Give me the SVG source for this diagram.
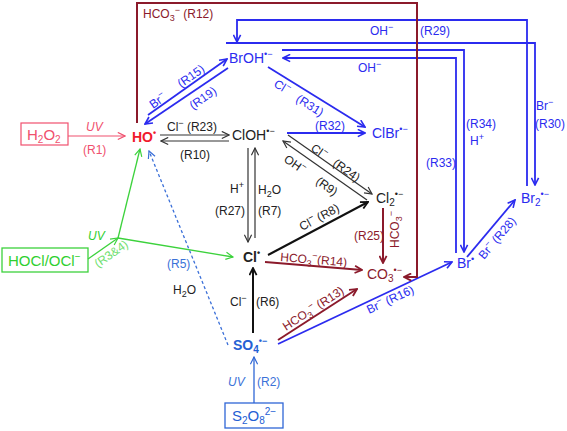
<svg xmlns="http://www.w3.org/2000/svg" width="567" height="431" viewBox="0 0 567 431">
<defs>
<style>
text{font-family:"Liberation Sans",Arial,Helvetica,sans-serif}
.sp{font-size:14px}
.lb{font-size:12px}
.it{font-style:italic}
.bd{font-weight:bold}
.k{fill:#222}
.mr{fill:#8b1a2b}
.bl{fill:#2b2bef}
.sb{fill:#2460d4}
.sl{fill:#3b72d8}
.gr{fill:#2fcf2f}
.lg{fill:#6fe06f}
.pk{fill:#f0506e}
.rd{fill:#f01a2c}
.ln{fill:none}
.c-bl{stroke:#2b2bef;stroke-width:1.8}
.c-mr{stroke:#8b1a2b;stroke-width:2}
.c-k{stroke:#333;stroke-width:1.2}
.c-kk{stroke:#111;stroke-width:2}
.c-gr{stroke:#3cd23c;stroke-width:1.3}
.c-pk{stroke:#f0506e;stroke-width:1.2}
.c-sb{stroke:#2f66d6;stroke-width:1.3}
.c-ds{stroke:#3a6fd8;stroke-width:1.3;stroke-dasharray:3 2.5}
</style>
<marker id="m-bl" viewBox="0 0 10 10" refX="9" refY="5" markerWidth="9" markerHeight="9" markerUnits="userSpaceOnUse" orient="auto"><path d="M1,1 L9,5 L1,9" fill="none" stroke="#2b2bef" stroke-width="1.8"/></marker>
<marker id="m-mr" viewBox="0 0 10 10" refX="9" refY="5" markerWidth="9" markerHeight="9" markerUnits="userSpaceOnUse" orient="auto"><path d="M1,1 L9,5 L1,9" fill="none" stroke="#8b1a2b" stroke-width="2"/></marker>
<marker id="m-k" viewBox="0 0 10 10" refX="9" refY="5" markerWidth="9" markerHeight="9" markerUnits="userSpaceOnUse" orient="auto"><path d="M1,1 L9,5 L1,9" fill="none" stroke="#333" stroke-width="1.3"/></marker>
<marker id="m-kk" viewBox="0 0 10 10" refX="9" refY="5" markerWidth="9" markerHeight="9" markerUnits="userSpaceOnUse" orient="auto"><path d="M1,1 L9,5 L1,9" fill="none" stroke="#111" stroke-width="2"/></marker>
<marker id="m-gr" viewBox="0 0 10 10" refX="9" refY="5" markerWidth="9" markerHeight="9" markerUnits="userSpaceOnUse" orient="auto"><path d="M1,1 L9,5 L1,9" fill="none" stroke="#3cd23c" stroke-width="1.3"/></marker>
<marker id="m-pk" viewBox="0 0 10 10" refX="9" refY="5" markerWidth="9" markerHeight="9" markerUnits="userSpaceOnUse" orient="auto"><path d="M1,1 L9,5 L1,9" fill="none" stroke="#f0506e" stroke-width="1.3"/></marker>
<marker id="m-sb" viewBox="0 0 10 10" refX="9" refY="5" markerWidth="9" markerHeight="9" markerUnits="userSpaceOnUse" orient="auto"><path d="M1,1 L9,5 L1,9" fill="none" stroke="#2f66d6" stroke-width="1.3"/></marker>
<marker id="m-ds" viewBox="0 0 10 10" refX="9" refY="5" markerWidth="9" markerHeight="9" markerUnits="userSpaceOnUse" orient="auto"><path d="M1,1 L9,5 L1,9" fill="none" stroke="#3a6fd8" stroke-width="1.3"/></marker>
</defs>
<rect width="567" height="431" fill="#fff"/>

<g id="connectors">
  <!-- blue bromine system -->
  <path class="ln c-bl" d="M148,115 L227,59" marker-end="url(#m-bl)"/>
  <path class="ln c-bl" d="M228,68 L145,124" marker-end="url(#m-bl)"/>
  <path class="ln c-bl" d="M268,67 L365,127" marker-end="url(#m-bl)"/>
  <path class="ln c-bl" d="M287,133 L365,133" marker-end="url(#m-bl)"/>
  <path class="ln c-bl" d="M527,186 V20 H237 V42" marker-end="url(#m-bl)"/>
  <path class="ln c-bl" d="M226,43 H535 V185" marker-end="url(#m-bl)"/>
  <path class="ln c-bl" d="M282,50 H464 V252" marker-end="url(#m-bl)"/>
  <path class="ln c-bl" d="M456,253 V58 H283" marker-end="url(#m-bl)"/>
  <path class="ln c-bl" d="M467,257 L515,200" marker-end="url(#m-bl)"/>
  <path class="ln c-bl" d="M278,344 L452,262" marker-end="url(#m-bl)"/>
  <!-- maroon carbonate -->
  <path class="ln c-mr" d="M137,123 V3 H417 V277 H404" marker-end="url(#m-mr)"/>
  <path class="ln c-mr" d="M278,340 L357,289" marker-end="url(#m-mr)"/>
  <path class="ln c-mr" d="M265,262 L362,270" marker-end="url(#m-mr)"/>
  <path class="ln c-mr" d="M383,208 V263" marker-end="url(#m-mr)"/>
  <!-- black chlorine -->
  <path class="ln c-k" d="M160,135 H229" marker-end="url(#m-k)"/>
  <path class="ln c-k" d="M229,141 H161" marker-end="url(#m-k)"/>
  <path class="ln c-k" d="M248,148 V242" marker-end="url(#m-k)"/>
  <path class="ln c-k" d="M255,238 V148" marker-end="url(#m-k)"/>
  <path class="ln c-k" d="M288,135 L372,194" marker-end="url(#m-k)"/>
  <path class="ln c-k" d="M367,200 L283,141" marker-end="url(#m-k)"/>
  <path class="ln c-kk" d="M268,255 L368,202" marker-end="url(#m-kk)"/>
  <path class="ln c-kk" d="M253,333 V268" marker-end="url(#m-kk)"/>
  <!-- green -->
  <path class="ln c-gr" d="M88,259 L118,238" marker-end="url(#m-gr)"/>
  <path class="ln c-gr" d="M118,238 L140,149" marker-end="url(#m-gr)"/>
  <path class="ln c-gr" d="M118,238 L233,257" marker-end="url(#m-gr)"/>
  <!-- pink -->
  <path class="ln c-pk" d="M68,136 H125" marker-end="url(#m-pk)"/>
  <!-- sulfate -->
  <path class="ln c-sb" d="M254,403 V357" marker-end="url(#m-sb)"/>
  <path class="ln c-ds" d="M228,345 L149,151" marker-end="url(#m-ds)"/>

  <!-- labels -->
  <text class="lb mr" x="143" y="18">HCO<tspan dy="3" font-size="9">3</tspan><tspan dy="-8" font-size="9">−</tspan><tspan dy="5"> (R12)</tspan></text>
  <text class="lb bl" x="370" y="35">OH<tspan dy="-5" font-size="9">−</tspan></text>
  <text class="lb bl" x="420" y="35">(R29)</text>
  <text class="lb bl" x="358" y="72">OH<tspan dy="-5" font-size="9">−</tspan></text>
  <text class="lb bl" x="536" y="110">Br<tspan dy="-5" font-size="9">−</tspan></text>
  <text class="lb bl" x="535" y="128">(R30)</text>
  <text class="lb bl" x="466" y="128">(R34)</text>
  <text class="lb bl" x="470" y="145">H<tspan dy="-5" font-size="9">+</tspan></text>
  <text class="lb bl" x="426" y="167">(R33)</text>
  <text class="lb bl" transform="translate(153,109) rotate(-35)">Br<tspan dy="-5" font-size="9">−</tspan></text>
  <text class="lb bl" transform="translate(181,88) rotate(-35)">(R15)</text>
  <text class="lb bl" transform="translate(193,110) rotate(-35)">(R19)</text>
  <text class="lb bl" transform="translate(273,86) rotate(32)">Cl<tspan dy="-5" font-size="9">−</tspan></text>
  <text class="lb bl" transform="translate(295,101) rotate(32)">(R31)</text>
  <text class="lb bl" x="315" y="130">(R32)</text>
  <text class="lb k" x="167" y="131">Cl<tspan dy="-5" font-size="9">−</tspan><tspan dy="5"> (R23)</tspan></text>
  <text class="lb k" x="180" y="159">(R10)</text>
  <text class="lb k" x="230" y="193">H<tspan dy="-5" font-size="9">+</tspan></text>
  <text class="lb k" x="258" y="194">H<tspan dy="3" font-size="9">2</tspan><tspan dy="-3">O</tspan></text>
  <text class="lb k" x="215" y="215">(R27)</text>
  <text class="lb k" x="258" y="215">(R7)</text>
  <text class="lb k" transform="translate(310,150) rotate(35)">Cl<tspan dy="-5" font-size="9">−</tspan></text>
  <text class="lb k" transform="translate(332,165) rotate(35)">(R24)</text>
  <text class="lb k" transform="translate(283,161) rotate(35)">OH<tspan dy="-5" font-size="9">−</tspan></text>
  <text class="lb k" transform="translate(315,183) rotate(35)">(R9)</text>
  <text class="lb k" transform="translate(302,231) rotate(-28)">Cl<tspan dy="-5" font-size="9">−</tspan><tspan dy="5"> (R8)</tspan></text>
  <text class="lb mr" transform="translate(280,261) rotate(4.7)">HCO<tspan dy="3" font-size="9">3</tspan><tspan dy="-8" font-size="9">−</tspan><tspan dy="5">(R14)</tspan></text>
  <text class="lb mr" x="354" y="240">(R25)</text>
  <text class="lb mr" transform="translate(399,248) rotate(-90)">HCO<tspan dy="3" font-size="9">3</tspan><tspan dy="-8" font-size="9">−</tspan></text>
  <text class="lb mr" transform="translate(286,331) rotate(-33)">HCO<tspan dy="3" font-size="9">3</tspan><tspan dy="-8" font-size="9">−</tspan><tspan dy="5"> (R13)</tspan></text>
  <text class="lb bl" transform="translate(369,314) rotate(-25)">Br<tspan dy="-5" font-size="9">−</tspan><tspan dy="5"> (R16)</tspan></text>
  <text class="lb bl" transform="translate(484,260) rotate(-50)">Br<tspan dy="-5" font-size="9">−</tspan><tspan dy="5">  (R28)</tspan></text>
  <text class="lb k" x="230" y="306">Cl<tspan dy="-5" font-size="9">−</tspan></text>
  <text class="lb k" x="256" y="306">(R6)</text>
  <text class="lb sl" x="167" y="268">(R5)</text>
  <text class="lb k" x="173" y="294">H<tspan dy="3" font-size="9">2</tspan><tspan dy="-3">O</tspan></text>
  <text class="lb sl it" x="228" y="386">UV</text>
  <text class="lb sl" x="257" y="386">(R2)</text>
  <text class="lb gr it" x="88" y="240">UV</text>
  <text class="lb lg" transform="translate(98,268) rotate(-35)">(R3&amp;4)</text>
  <text class="lb pk it" x="86" y="131">UV</text>
  <text class="lb pk" x="83" y="154">(R1)</text>
</g>

<g id="n-h2o2">
  <rect x="21" y="123" width="47" height="22" fill="none" stroke="#f0506e" stroke-width="1.2"/>
  <text class="pk" font-size="15" x="27" y="140">H<tspan dy="3" font-size="10">2</tspan><tspan dy="-3">O</tspan><tspan dy="3" font-size="10">2</tspan></text>
</g>
<g id="n-ho">
  <text class="sp bd rd" x="132" y="142">HO<tspan dy="-6" font-size="9">•</tspan></text>
</g>
<g id="n-hocl">
  <rect x="2" y="248" width="86" height="24" fill="none" stroke="#3cd23c" stroke-width="1.3"/>
  <text class="gr" font-size="15" x="8" y="266">HOCl/OCl<tspan dy="-6" font-size="10">−</tspan></text>
</g>
<g id="n-broh">
  <text class="sp bl" x="229" y="63">BrOH<tspan dy="-6" font-size="9">•−</tspan></text>
</g>
<g id="n-cloh">
  <text class="sp k" x="232" y="140">ClOH<tspan dy="-6" font-size="9">•−</tspan></text>
</g>
<g id="n-clbr">
  <text class="sp bl" x="372" y="138">ClBr<tspan dy="-6" font-size="9">•−</tspan></text>
</g>
<g id="n-cl2">
  <text class="sp k" x="376" y="203">Cl<tspan dy="3" font-size="10">2</tspan><tspan dy="-9" font-size="9">•−</tspan></text>
</g>
<g id="n-cl">
  <text class="sp bd k" x="243" y="262">Cl<tspan dy="-6" font-size="9">•</tspan></text>
</g>
<g id="n-co3">
  <text class="sp mr" x="367" y="279">CO<tspan dy="3" font-size="10">3</tspan><tspan dy="-9" font-size="9">•−</tspan></text>
</g>
<g id="n-br">
  <text class="sp bl" x="457" y="268">Br<tspan dy="-6" font-size="9">•</tspan></text>
</g>
<g id="n-br2">
  <text class="sp bl" x="521" y="203">Br<tspan dy="3" font-size="10">2</tspan><tspan dy="-9" font-size="9">•−</tspan></text>
</g>
<g id="n-so4">
  <text class="sp bd sb" x="233" y="350">SO<tspan dy="3" font-size="10">4</tspan><tspan dy="-9" font-size="9">•−</tspan></text>
</g>
<g id="n-s2o8">
  <rect x="225" y="403" width="58" height="25" fill="none" stroke="#2f66d6" stroke-width="1.3"/>
  <text class="sb" font-size="15" x="232" y="421">S<tspan dy="3" font-size="10">2</tspan><tspan dy="-3">O</tspan><tspan dy="3" font-size="10">8</tspan><tspan dy="-9" font-size="10">2−</tspan></text>
</g>
</svg>
